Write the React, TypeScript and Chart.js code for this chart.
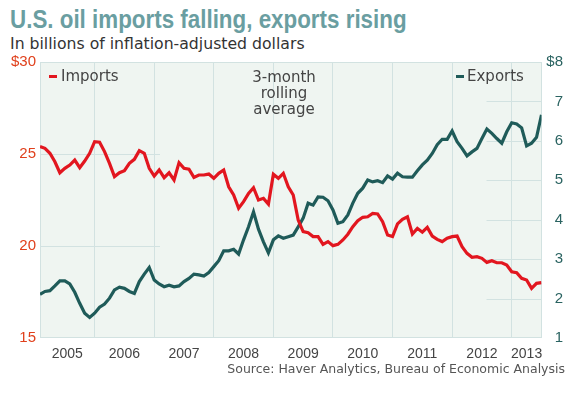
import React, { useEffect, useRef } from 'react';
import { Chart, registerables } from 'chart.js';

Chart.register(...registerables);

// Monthly series, Feb 2005 .. Jul 2013 (3-month rolling average)
const START_YEAR = 2005;
const START_MONTH = 1; // 0-based: February

const importsBn = [
  25.40, 25.31, 25.04, 24.58, 23.98, 24.22, 24.40, 24.67, 24.26, 24.62,
  25.04, 25.67, 25.64, 25.13, 24.49, 23.77, 23.98, 24.09, 24.49, 24.71,
  25.18, 25.04, 24.22, 23.80, 24.13, 23.71, 23.98, 23.59, 24.53, 24.22,
  24.17, 23.73, 23.86, 23.86, 23.91, 23.68, 23.95, 24.13, 23.22, 22.77,
  22.05, 22.41, 22.86, 23.17, 22.50, 22.59, 22.28, 23.90, 23.68, 23.95,
  23.22, 22.77, 21.41, 20.78, 20.72, 20.51, 20.51, 20.09, 20.24, 20.02,
  20.09, 20.33, 20.64, 21.05, 21.37, 21.56, 21.59, 21.77, 21.74, 21.32,
  20.60, 20.51, 21.20, 21.45, 21.59, 20.65, 20.96, 20.75, 21.01, 20.54,
  20.36, 20.24, 20.42, 20.51, 20.54, 19.96, 19.60, 19.39, 19.42, 19.33,
  19.11, 19.20, 19.09, 19.09, 18.97, 18.60, 18.55, 18.24, 18.15, 17.70,
  17.97, 18.01,
];

const exportsBn = [
  2.11, 2.18, 2.20, 2.32, 2.45, 2.45, 2.37, 2.16, 1.88, 1.63,
  1.52, 1.63, 1.78, 1.86, 2.01, 2.22, 2.29, 2.26, 2.18, 2.13,
  2.43, 2.62, 2.79, 2.47, 2.37, 2.30, 2.34, 2.30, 2.32, 2.43,
  2.51, 2.62, 2.60, 2.57, 2.66, 2.81, 2.96, 3.21, 3.21, 3.25,
  3.13, 3.49, 3.82, 4.20, 3.76, 3.44, 3.16, 3.49, 3.59, 3.53,
  3.57, 3.61, 3.82, 4.04, 4.42, 4.37, 4.58, 4.57, 4.48, 4.25,
  3.91, 3.95, 4.12, 4.42, 4.67, 4.80, 5.01, 4.96, 4.99, 4.94,
  5.11, 5.03, 5.18, 5.09, 5.08, 5.08, 5.24, 5.39, 5.51, 5.68,
  5.90, 6.04, 6.04, 6.25, 5.98, 5.81, 5.62, 5.72, 5.81, 6.06,
  6.30, 6.19, 6.06, 5.94, 6.23, 6.46, 6.43, 6.33, 5.87, 5.94,
  6.09, 6.66,
];

const yearLabels = ['2005', '2006', '2007', '2008', '2009', '2010', '2011', '2012', '2013'];
const leftTickValues = [15, 20, 25, 30];
const rightTickValues = [1, 2, 3, 4, 5, 6, 7, 8];

const RED = '#e2161f';
const TEAL = '#1f5b59';
const LEFT_TICK = '#e0401c';
const RIGHT_TICK = '#2a6361';
const GRID = '#d2e2e1';
const BG = '#eff5f1';

const months = importsBn.map((_, i) => {
  const m = START_MONTH + i;
  return { year: START_YEAR + Math.floor(m / 12), month: m % 12 };
});
const lastIdx = importsBn.length - 1;
const janIdx = months.map((m, i) => (m.month === 0 ? i : -1)).filter((i) => i > 0);
const yearCenters = yearLabels.map((y) => {
  const yr = Number(y);
  const s = months.findIndex((m) => m.year === yr);
  const e = months.findIndex((m) => m.year === yr + 1);
  return (s + (e < 0 ? lastIdx : e)) / 2;
});

const frame = {
  id: 'frame',
  beforeDraw(chart: any) {
    const { ctx, chartArea: a, scales } = chart;
    ctx.save();
    ctx.fillStyle = BG;
    ctx.fillRect(a.left, a.top, a.right - a.left, a.bottom - a.top);
    ctx.strokeStyle = GRID;
    ctx.lineWidth = 1;
    ctx.beginPath();
    leftTickValues.slice(1, -1).forEach((v) => {
      const y = Math.round(scales.y.getPixelForValue(v)) + 0.5;
      ctx.moveTo(a.left, y);
      ctx.lineTo(a.left + 120, y);
    });
    rightTickValues.slice(1, -1).forEach((v) => {
      const y = Math.round(scales.y1.getPixelForValue(v)) + 0.5;
      ctx.moveTo(a.right - 55, y);
      ctx.lineTo(a.right, y);
    });
    ctx.stroke();
    ctx.strokeRect(Math.round(a.left) + 0.5, Math.round(a.top) + 0.5, Math.round(a.right - a.left) - 1, Math.round(a.bottom - a.top) - 1);
    ctx.restore();
  },
};

function ChartView() {
  const ref = useRef<HTMLCanvasElement | null>(null);
  useEffect(() => {
    if (!ref.current) return;
    const chart = new Chart(ref.current, {
      type: 'line',
      data: {
        datasets: [
          {
            label: 'Imports',
            data: importsBn.map((v, i) => ({ x: i, y: v })),
            borderColor: RED,
            borderWidth: 3.2,
            pointRadius: 0,
            tension: 0,
            yAxisID: 'y',
            xAxisID: 'x',
          },
          {
            label: 'Exports',
            data: exportsBn.map((v, i) => ({ x: i, y: v })),
            borderColor: TEAL,
            borderWidth: 3.2,
            pointRadius: 0,
            tension: 0,
            yAxisID: 'y1',
            xAxisID: 'x',
          },
        ],
      },
      options: {
        animation: false,
        responsive: false,
        maintainAspectRatio: false,
        layout: { padding: { top: 62, right: 6, bottom: 0, left: 0 } },
        plugins: { legend: { display: false }, tooltip: { enabled: false } },
        scales: {
          x: {
            type: 'linear',
            position: 'bottom',
            min: 0,
            max: lastIdx,
            afterBuildTicks: (s: any) => {
              s.ticks = janIdx.map((v) => ({ value: v }));
            },
            afterFit: (s: any) => {
              s.height = 0;
            },
            ticks: { display: false },
            grid: { color: GRID, lineWidth: 1, drawTicks: false },
            border: { display: false },
          },
          xl: {
            type: 'linear',
            position: 'bottom',
            min: 0,
            max: lastIdx,
            afterBuildTicks: (s: any) => {
              s.ticks = yearCenters.map((v) => ({ value: v }));
            },
            afterFit: (s: any) => {
              s.height = 60;
            },
            ticks: {
              autoSkip: false,
              maxRotation: 0,
              padding: 8,
              color: '#444',
              font: { family: 'Liberation Sans', size: 14 },
              callback: (v: any) => {
                const k = yearCenters.indexOf(Number(v));
                return k >= 0 ? yearLabels[k] : '';
              },
            },
            grid: { display: false, drawTicks: false },
            border: { display: false },
          },
          y: {
            type: 'linear',
            position: 'left',
            min: 15,
            max: 30,
            afterBuildTicks: (s: any) => {
              s.ticks = leftTickValues.map((v) => ({ value: v }));
            },
            afterFit: (s: any) => {
              s.width = 40;
            },
            ticks: {
              padding: 4,
              color: LEFT_TICK,
              font: { family: 'Liberation Sans', size: 15 },
              callback: (v: any) => (v === 30 ? '$30' : String(v)),
            },
            grid: { display: false, drawTicks: false },
            border: { display: false },
          },
          y1: {
            type: 'linear',
            position: 'right',
            min: 1,
            max: 8,
            afterBuildTicks: (s: any) => {
              s.ticks = rightTickValues.map((v) => ({ value: v }));
            },
            afterFit: (s: any) => {
              s.width = 21.5;
            },
            ticks: {
              padding: 4,
              crossAlign: 'far',
              color: RIGHT_TICK,
              font: { family: 'Liberation Sans', size: 15 },
              callback: (v: any) => (v === 8 ? '$8' : String(v)),
            },
            grid: { display: false, drawTicks: false },
            border: { display: false },
          },
        },
      },
      plugins: [frame],
    } as any);
    return () => chart.destroy();
  }, []);
  return (
    <canvas
      ref={ref}
      width={569}
      height={398}
      style={{ position: 'absolute', left: 0, top: 0, width: 569, height: 398 }}
    />
  );
}

const txt = { position: 'absolute' as const, whiteSpace: 'nowrap' as const, lineHeight: 1, margin: 0 };

export default function App() {
  return (
    <div style={{ position: 'absolute', left: 0, top: 0, width: 569, height: 398, background: '#fff', overflow: 'hidden' }}>
      <div
        style={{
          ...txt,
          left: 10,
          top: 7,
          fontFamily: '"Liberation Sans", Arial, sans-serif',
          fontWeight: 700,
          fontSize: 25,
          transform: 'scaleX(0.895)',
          transformOrigin: 'left top',
          color: '#6a9ea1',
        }}
      >
        U.S. oil imports falling, exports rising
      </div>
      <div style={{ ...txt, left: 10, top: 36, fontFamily: '"DejaVu Sans", sans-serif', fontSize: 15.7, color: '#333' }}>
        In billions of inflation-adjusted dollars
      </div>
      <ChartView />
      <div style={{ position: 'absolute', left: 49, top: 75, width: 8, height: 3, background: RED }} />
      <div style={{ ...txt, left: 61, top: 69, fontFamily: '"DejaVu Sans", sans-serif', fontSize: 15, color: '#444' }}>
        Imports
      </div>
      <div style={{ position: 'absolute', left: 456, top: 75, width: 8, height: 3, background: TEAL }} />
      <div style={{ ...txt, left: 467, top: 69, fontFamily: '"DejaVu Sans", sans-serif', fontSize: 15, color: '#444' }}>
        Exports
      </div>
      <div
        style={{
          position: 'absolute',
          left: 224,
          width: 120,
          top: 68.5,
          textAlign: 'center',
          lineHeight: '16px',
          fontFamily: '"DejaVu Sans", sans-serif',
          fontSize: 15,
          color: '#444',
        }}
      >
        3-month
        <br />
        rolling
        <br />
        average
      </div>
      <div
        style={{
          ...txt,
          right: 4,
          top: 362.7,
          fontFamily: '"DejaVu Sans", sans-serif',
          fontSize: 12.5,
          color: '#555',
        }}
      >
        Source: Haver Analytics, Bureau of Economic Analysis
      </div>
    </div>
  );
}
